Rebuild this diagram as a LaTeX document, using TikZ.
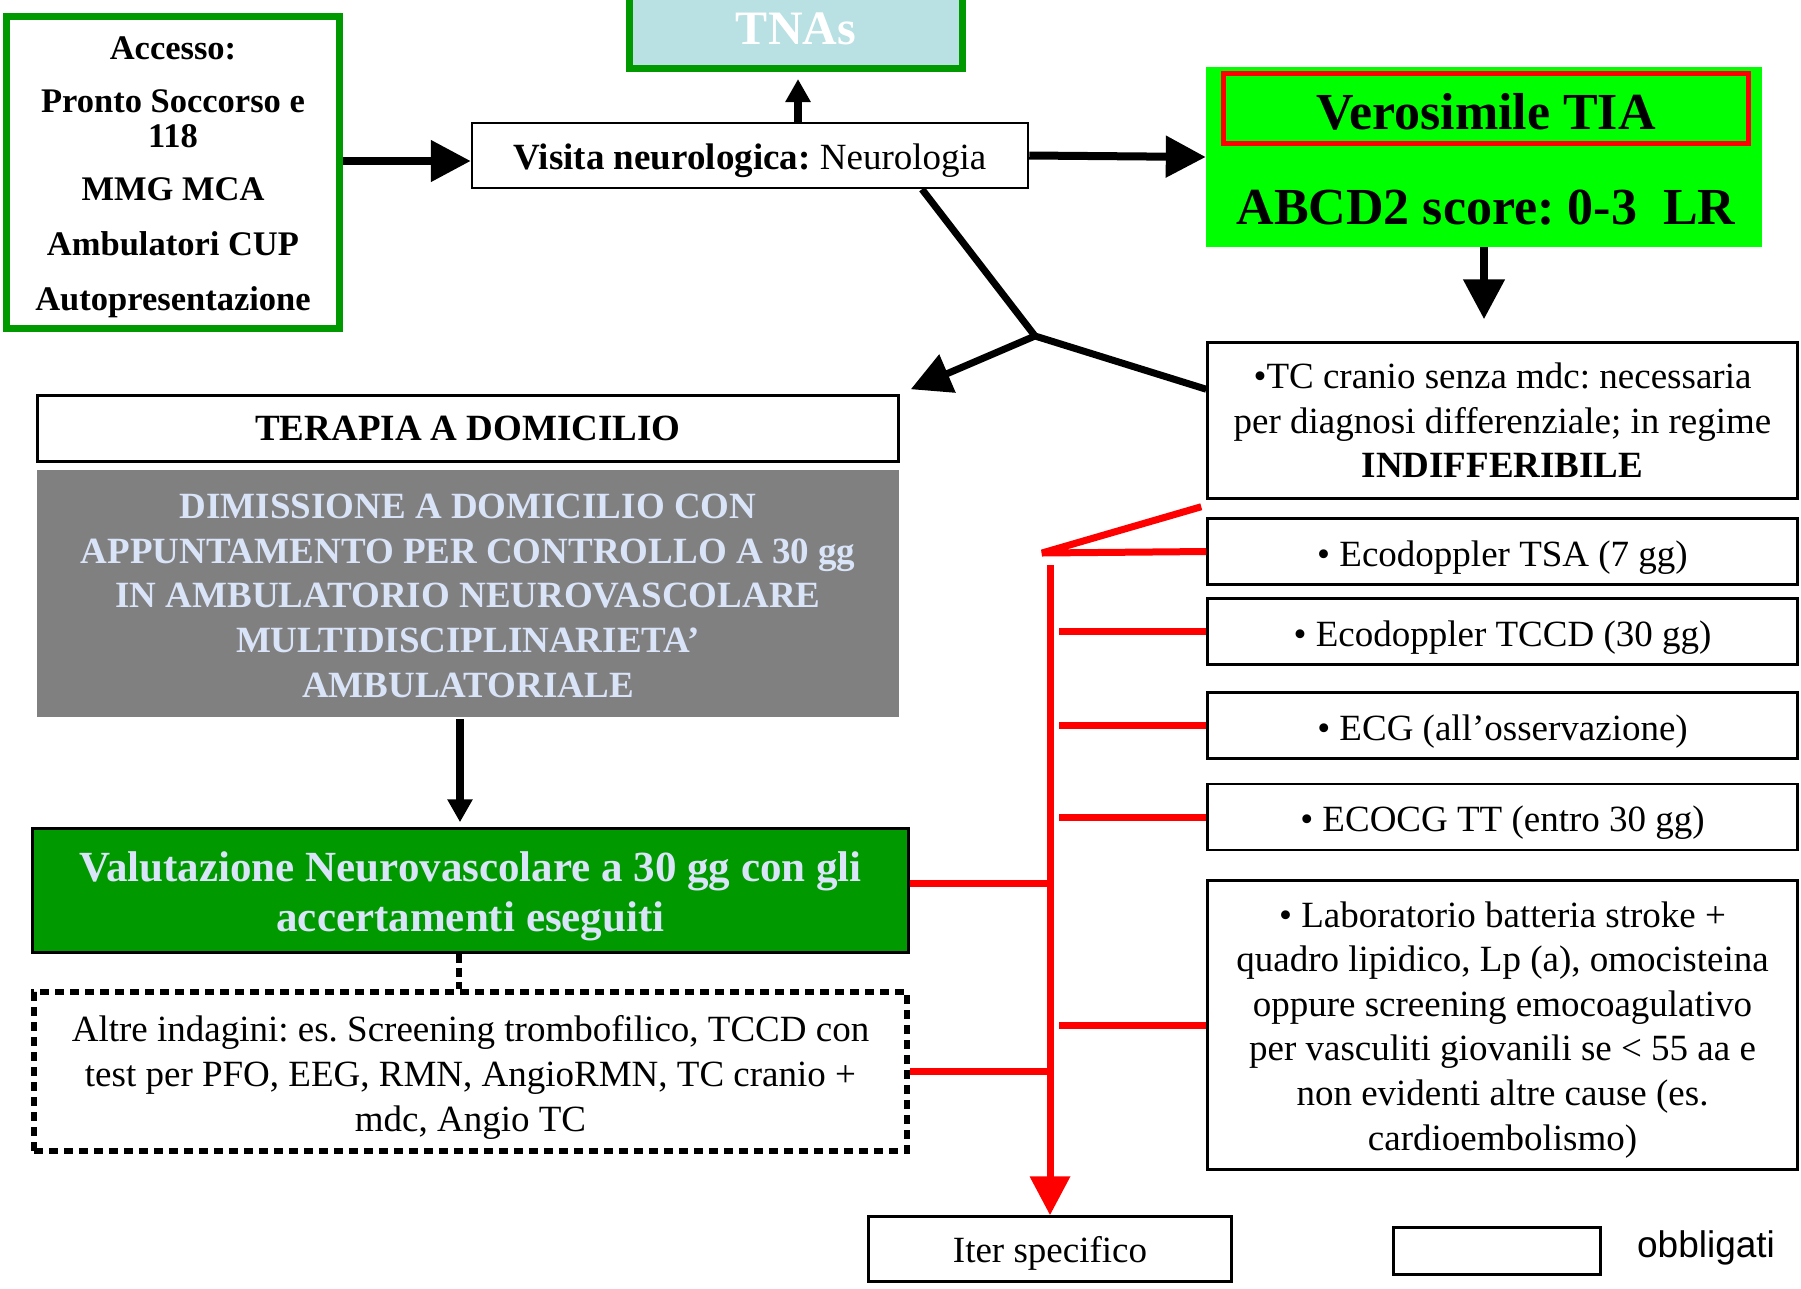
\documentclass[tikz,border=0pt]{standalone}
\usepackage{fontspec}
\setmainfont{Liberation Serif}
\newfontfamily\legsans{Liberation Sans}
\frenchspacing
\usetikzlibrary{arrows.meta,calc}
\definecolor{tnafill}{HTML}{B9E0E3}
\definecolor{darkgreen}{HTML}{009900}
\definecolor{tiagreen}{HTML}{00FF00}
\definecolor{greybox}{HTML}{808080}
\definecolor{paleblue}{HTML}{DAE4F8}
\newcommand\lift[1]{\rule{0pt}{#1}}

\tikzset{
  lower/.style={execute at begin node={\lift{#1}}},
  box/.style={draw, line width=2.5pt, inner sep=0pt, align=center, font=\fontsize{37}{44.6}\selectfont},
  accbox/.style={draw=darkgreen, line width=7pt, inner sep=0pt, align=center, font=\bfseries\fontsize{34.5}{35}\selectfont},
  tnabox/.style={draw=darkgreen, fill=tnafill, line width=7pt, inner sep=0pt, text=white, font=\bfseries\fontsize{48}{50}\selectfont},
  tiabg/.style={fill=tiagreen, inner sep=0pt},
  tiabox/.style={draw=red, line width=5pt, inner sep=0pt, font=\bfseries\fontsize{52}{56}\selectfont},
  dimbox/.style={fill=greybox, inner sep=0pt, align=center, text=paleblue, font=\bfseries\fontsize{37}{44.6}\selectfont},
  valbox/.style={draw, fill=darkgreen, line width=2.5pt, inner sep=0pt, align=center, text=paleblue, font=\bfseries\fontsize{43}{50}\selectfont},
  dotbox/.style={draw, line width=6pt, dash pattern=on 9pt off 6pt, inner sep=0pt, align=center, font=\fontsize{37}{45}\selectfont},
  blk/.style={line width=7pt},
  bigarrow/.style={line width=8pt, -{Triangle[length=40pt,width=40pt]}},
  smallarrow/.style={line width=8pt, -{Triangle[length=23pt,width=24pt]}},
  dotline/.style={line width=6pt, dash pattern=on 9pt off 5pt},
  redl/.style={draw=red, line width=7pt},
  redarrow/.style={redl, -{Triangle[length=39pt,width=39pt]}}
}

\begin{document}
\begin{tikzpicture}[x=1pt,y=-1pt]
\clip (0,0) rectangle (1801,1288);
\fill[white] (0,0) rectangle (1801,1288);

\node[accbox, minimum width=333pt, minimum height=312pt] (acc) at (173,172.5) {\lift{32pt}Accesso:\\[18pt]Pronto Soccorso e\\118\\[18pt]MMG MCA\\[20pt]Ambulatori CUP\\[20pt]Autopresentazione};
\node[tnabox, minimum width=333pt, minimum height=79pt] (tna) at (796,29) {TNAs};
\node[box, lower=37pt, minimum width=556pt, minimum height=65pt] (vis) at (750,155.5) {\textbf{Visita neurologica:} Neurologia};
\node[tiabg, minimum width=556pt, minimum height=180pt] (ver) at (1484,157) {};
\node[tiabox, lower=42pt, minimum width=525pt, minimum height=70pt] (tia) at (1486,108.5) {Verosimile TIA};
\node[inner sep=0pt, font=\bfseries\fontsize{52}{56}\selectfont] (abcd) at (1486,207.5) {ABCD2 score: 0-3\ \ LR};

\node[box, minimum width=590pt, minimum height=156pt] (tc) at (1502.5,420.5) {•TC cranio senza mdc: necessaria\\per diagnosi differenziale; in regime\\\textbf{INDIFFERIBILE}};
\node[box, lower=37pt, minimum width=590pt, minimum height=66pt] (tsa) at (1502.5,551.5) {• Ecodoppler TSA (7 gg)};
\node[box, lower=37pt, minimum width=590pt, minimum height=66pt] (tccd) at (1502.5,631.5) {• Ecodoppler TCCD (30 gg)};
\node[box, lower=37pt, minimum width=590pt, minimum height=66pt] (ecg) at (1502.5,725.5) {• ECG (all’osservazione)};
\node[box, lower=37pt, minimum width=590pt, minimum height=66pt] (ecocg) at (1502.5,817) {• ECOCG TT (entro 30 gg)};
\node[box, minimum width=590pt, minimum height=289pt] (lab) at (1502.5,1025) {\lift{35pt}• Laboratorio batteria stroke +\\quadro lipidico, Lp (a), omocisteina\\oppure screening emocoagulativo\\per vasculiti giovanili se < 55 aa e\\non evidenti altre cause (es.\\cardioembolismo)};

\node[box, minimum width=861pt, minimum height=66pt] (ter) at (468,428.5) {\textbf{TERAPIA A DOMICILIO}};
\node[dimbox, minimum width=862pt, minimum height=247pt] (dim) at (468,593.5) {\lift{29pt}DIMISSIONE A DOMICILIO CON\\APPUNTAMENTO PER CONTROLLO A 30 gg\\IN AMBULATORIO NEUROVASCOLARE\\MULTIDISCIPLINARIETA’\\AMBULATORIALE};
\node[valbox, minimum width=876pt, minimum height=124pt] (val) at (470.5,890.5) {\lift{41pt}Valutazione Neurovascolare a 30 gg con gli\\accertamenti eseguiti};
\node[dotbox, minimum width=873pt, minimum height=159pt] (alt) at (470.5,1071.5) {\lift{37pt}Altre indagini: es. Screening trombofilico, TCCD con\\test per PFO, EEG, RMN, AngioRMN, TC cranio +\\mdc, Angio TC};

\node[box, lower=34.5pt, minimum width=363pt, minimum height=65pt] (iter) at (1050,1249) {Iter specifico};
\node[box, minimum width=207pt, minimum height=47pt] (leg) at (1497,1251) {};
\node[inner sep=0pt, font=\legsans\fontsize{37}{40}\selectfont] (obb) at (1706,1248) {obbligati};

\draw[bigarrow] ($(acc.east)+(0,-11.5)$) -- ($(vis.west)+(0,5.5)$);
\draw[smallarrow] ($(vis.north)+(48,0)$) -- ($(tna.south)+(2,7)$);
\draw[bigarrow] (vis.east) -- (ver.west);
\draw[bigarrow] (ver.south) -- ($(ver.south |- tc.north)+(0,-22)$);

\coordinate (jn) at (1035,336);
\draw[blk] ($(vis.south)+(172,0)$) -- (jn) -- ($(tc.north west)+(0,48)$);
\draw[bigarrow, line width=7pt] (jn) -- ($(ter.north east)+(11,-5)$);

\draw[smallarrow] ($(dim.south)+(-8,2)$) -- ($(val.north)+(-10.5,-5)$);
\draw[dotline] ($(val.south)+(-11.5,0)$) -- ($(alt.north)+(-11.5,0)$);

\coordinate (rj) at (1042,553);
\coordinate (rtop) at (1050,565);
\draw[redl, line join=bevel] (tsa.west) -- (rj) -- ($(tc.south west)+(-5,7)$);
\draw[redarrow] (rtop) -- (iter.north);
\foreach \b in {tccd,ecg,ecocg,lab}
  \draw[redl] (\b.west) -- +(-147,0);
\draw[redl] ($(val.east)+(0,-7)$) -- ($(val.east -| rtop)+(0,-7)$);
\draw[redl] (alt.east) -- (alt.east -| rtop);
\end{tikzpicture}
\end{document}
